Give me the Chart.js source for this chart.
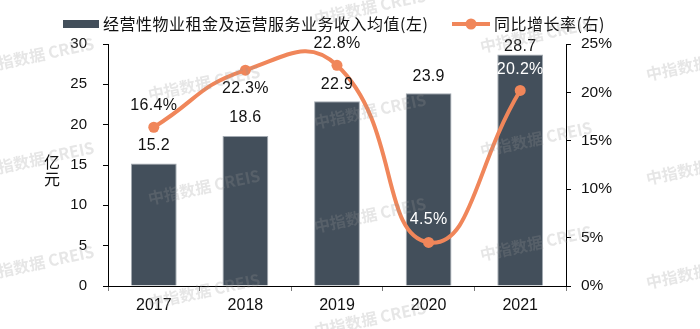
<!DOCTYPE html>
<html>
<head>
<meta charset="utf-8">
<script src="https://cdn.jsdelivr.net/npm/chart.js@4.4.1/dist/chart.umd.min.js"></script>
<style>
  html, body { margin: 0; padding: 0; background: #ffffff; }
  #wrap { width: 700px; height: 329px; }
</style>
</head>
<body>
<div id="wrap"><canvas id="c" width="700" height="329"></canvas></div>
<script>
// ---- data ----
const years = ['2017', '2018', '2019', '2020', '2021'];
const avgIncome = [15.2, 18.6, 22.9, 23.9, 28.7];      // 亿元
const yoyGrowth = [16.4, 22.3, 22.8, 4.5, 20.2];       // %
const incomeTicks = [0, 5, 10, 15, 20, 25, 30];
const growthTicks = [0, 5, 10, 15, 20, 25];
const seriesNames = ['经营性物业租金及运营服务业务收入均值(左)', '同比增长率(右)'];
const unitLabel = ['亿', '元'];
const watermarkText = '中指数据 CREIS';

// ---- styling ----
const BAR_COLOR = '#434f5b';
const BAR_EDGE = '#a3aab2';
const LINE_COLOR = '#f0865a';
const TEXT_COLOR = '#111111';
const LATIN = '"Liberation Sans", Arial, sans-serif';
const CJK = '"Noto Sans CJK SC", "Noto Sans", sans-serif';

// label placement relative to each mark (pixels, negative = up)
const barLabelShift = [-18, -18, -17, -17, -8];
const lineLabelShift = [-22, 18, -22, -23, -21];
const lineLabelColors = [TEXT_COLOR, TEXT_COLOR, TEXT_COLOR, '#ffffff', '#ffffff'];

// value labels for bars and the growth line
const valueLabels = {
  id: 'valueLabels',
  afterDatasetsDraw(chart) {
    const ctx = chart.ctx;
    ctx.save();
    ctx.font = '16px ' + LATIN;
    ctx.letterSpacing = '0.3px';
    ctx.textAlign = 'center';
    ctx.textBaseline = 'middle';
    chart.getDatasetMeta(1).data.forEach((el, i) => {
      ctx.fillStyle = TEXT_COLOR;
      ctx.fillText(avgIncome[i].toFixed(1), el.x, el.y + barLabelShift[i]);
    });
    chart.getDatasetMeta(0).data.forEach((el, i) => {
      ctx.fillStyle = lineLabelColors[i];
      ctx.fillText(yoyGrowth[i].toFixed(1) + '%', el.x, el.y + lineLabelShift[i]);
    });
    ctx.restore();
  }
};

// legend, unit label and background watermark
const decorations = {
  id: 'decorations',
  afterDraw(chart) {
    const ctx = chart.ctx;
    ctx.save();
    // legend
    ctx.textBaseline = 'middle';
    ctx.textAlign = 'left';
    ctx.font = '16px ' + CJK;
    ctx.letterSpacing = '0.5px';
    ctx.fillStyle = BAR_COLOR;
    ctx.fillRect(63, 20, 36, 8);
    ctx.fillStyle = TEXT_COLOR;
    ctx.fillText(seriesNames[0], 103, 24);
    ctx.strokeStyle = LINE_COLOR;
    ctx.lineWidth = 4;
    ctx.beginPath();
    ctx.moveTo(452, 24);
    ctx.lineTo(490, 24);
    ctx.stroke();
    ctx.fillStyle = LINE_COLOR;
    ctx.beginPath();
    ctx.arc(471, 24, 5.5, 0, Math.PI * 2);
    ctx.fill();
    ctx.fillStyle = TEXT_COLOR;
    ctx.fillText(seriesNames[1], 494, 24);

    // unit label, stacked vertically
    ctx.letterSpacing = '0px';
    ctx.textAlign = 'center';
    ctx.font = '16px ' + CJK;
    ctx.fillText(unitLabel[0], 52, 162);
    ctx.fillText(unitLabel[1], 52, 179);

    // watermark tiles
    ctx.font = 'bold 16px ' + CJK;
    ctx.fillStyle = 'rgba(150,150,150,0.24)';
    for (let col = 0; col < 5; col++) {
      const cx = 38 + 166 * col;
      for (let row = -2; row < 5; row++) {
        const cy = 55 + 28 * col + 104 * row;
        if (cy < -40 || cy > 370) continue;
        ctx.save();
        ctx.translate(cx, cy);
        ctx.rotate(-12 * Math.PI / 180);
        ctx.fillText(watermarkText, 0, 0);
        ctx.restore();
      }
    }
    ctx.restore();
  }
};

new Chart(document.getElementById('c'), {
  data: {
    labels: years,
    datasets: [
      {
        type: 'line',
        label: seriesNames[1],
        data: yoyGrowth,
        yAxisID: 'y1',
        borderColor: LINE_COLOR,
        backgroundColor: LINE_COLOR,
        borderWidth: 4,
        pointRadius: 5.5,
        pointBorderWidth: 0,
        pointBackgroundColor: LINE_COLOR,
        tension: 0.5,
        capBezierPoints: false,
        clip: false,
        order: 0
      },
      {
        type: 'bar',
        label: seriesNames[0],
        data: avgIncome,
        yAxisID: 'y',
        backgroundColor: BAR_COLOR,
        borderColor: BAR_EDGE,
        borderWidth: { left: 1, right: 1, top: 1, bottom: 0 },
        categoryPercentage: 1.0,
        barPercentage: 0.5,
        order: 1
      }
    ]
  },
  options: {
    responsive: false,
    devicePixelRatio: 1,
    animation: false,
    layout: { padding: { top: 44, left: 0, right: 0, bottom: 0 } },
    plugins: {
      legend: { display: false },
      tooltip: { enabled: false }
    },
    scales: {
      x: {
        offset: true,
        grid: { offset: true, drawOnChartArea: false, drawTicks: true, tickLength: 5, color: '#7a7a7a' },
        border: { display: true, color: '#000000', width: 1 },
        ticks: { color: TEXT_COLOR, font: { family: LATIN, size: 16 }, padding: 5, maxRotation: 0 },
        afterFit(scale) { scale.height = 43; }
      },
      y: {
        position: 'left',
        min: incomeTicks[0],
        max: incomeTicks[incomeTicks.length - 1],
        afterBuildTicks(scale) { scale.ticks = incomeTicks.map(v => ({ value: v })); },
        grid: { drawOnChartArea: false, drawTicks: true, tickLength: 5, color: '#000000' },
        border: { display: true, color: '#000000', width: 1 },
        ticks: { color: TEXT_COLOR, font: { family: LATIN, size: 15 }, padding: 16 },
        afterFit(scale) { scale.width = 108; }
      },
      y1: {
        position: 'right',
        min: growthTicks[0],
        max: growthTicks[growthTicks.length - 1],
        afterBuildTicks(scale) { scale.ticks = growthTicks.map(v => ({ value: v })); },
        grid: { drawOnChartArea: false, drawTicks: true, tickLength: 5, color: '#000000' },
        border: { display: true, color: '#000000', width: 1 },
        ticks: { color: TEXT_COLOR, font: { family: LATIN, size: 15.5 }, padding: 10, callback: v => v + '%' },
        afterFit(scale) { scale.width = 134; }
      }
    }
  },
  plugins: [valueLabels, decorations]
});
</script>
</body>
</html>
